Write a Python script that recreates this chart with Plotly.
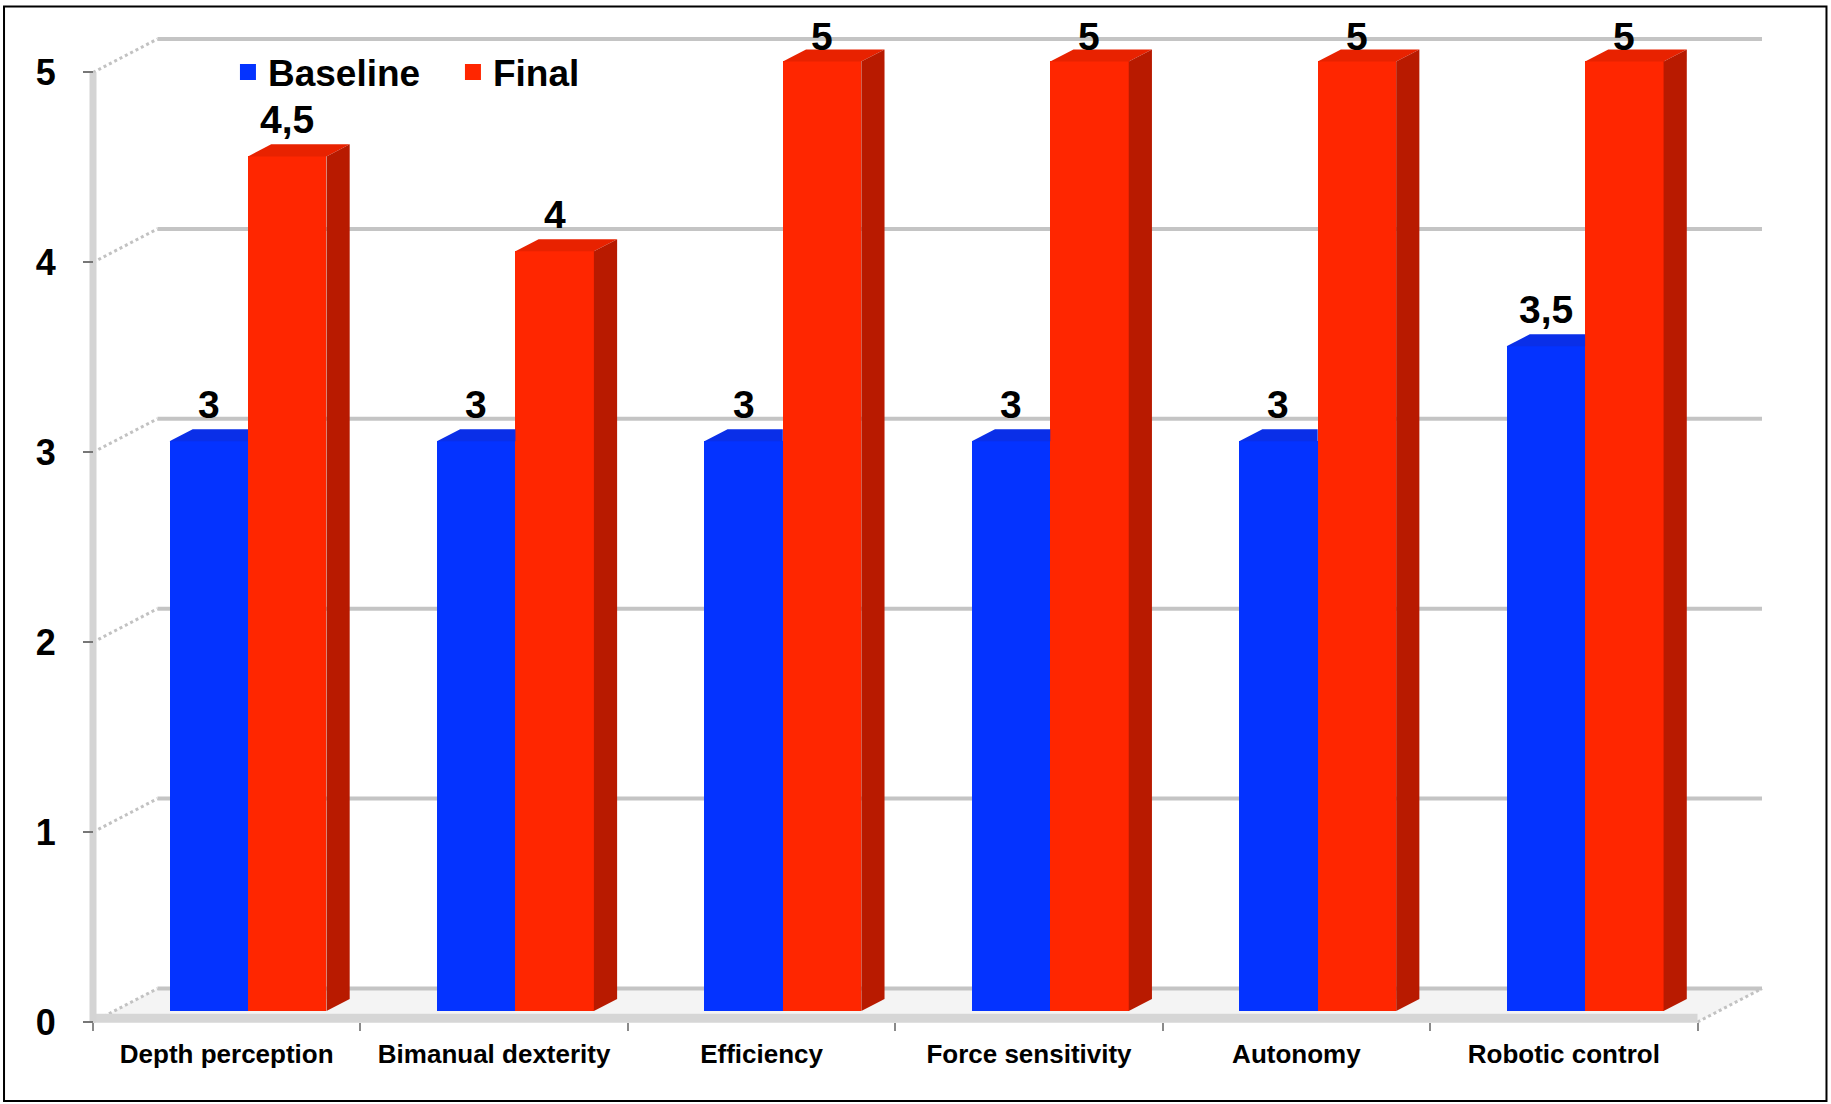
import plotly.graph_objects as go

# ---------------- data ----------------
categories = ["Depth perception", "Bimanual dexterity", "Efficiency",
              "Force sensitivity", "Autonomy", "Robotic control"]
baseline = [3, 3, 3, 3, 3, 3.5]
final = [4.5, 4, 5, 5, 5, 5]
y_ticks = [0, 1, 2, 3, 4, 5]
series_names = ["Baseline", "Final"]

# ---------------- style / geometry ----------------
W, H = 1831, 1104
FONT = "Liberation Sans"
BLUE, BLUE_TOP = "#0433ff", "#0a2fe8"
RED, RED_TOP, RED_SIDE = "#ff2600", "#e82200", "#b81a00"
GRID = "#c4c4c4"

PX_X, PX_Y = 267.5, 190.0          # pixels per data unit
X_ORIGIN_PIX, Y_ORIGIN_PIX = 93, 1022
DXU, DYU = 64.5 / PX_X, 33.5 / PX_Y  # depth vector of the 3D box (data units)
D0, DD = 0.33, 0.36                 # bar front depth and bar depth (fractions)
BAR_W = 0.2935

n = len(categories)
xmin = -0.5 - 12 / PX_X
xmax = n - 0.5 + DXU + 8 / PX_X
ymin = -14 / PX_Y
ymax = max(y_ticks) + DYU + 6 / PX_Y
ml = X_ORIGIN_PIX - 12
pw = (xmax - xmin) * PX_X
mr = W - ml - pw
mb = H - (Y_ORIGIN_PIX + 14)
ph = (ymax - ymin) * PX_Y
mt = H - mb - ph


def fmt(v):
    return str(int(v)) if float(v).is_integer() else str(v).replace(".", ",")


def px_to_paper_x(p):
    return (p - ml) / pw


def px_to_paper_y(p):
    return (H - mb - p) / ph


fig = go.Figure()
shapes = []

# floor
x_lo, x_hi = -0.5, n - 0.5
shapes.append(dict(type="path", layer="below", xref="x", yref="y",
                   path=f"M{x_lo},0 L{x_hi},0 L{x_hi + DXU},{DYU} L{x_lo + DXU},{DYU} Z",
                   fillcolor="#f4f4f4", line=dict(width=0)))
# back wall grid lines + left wall diagonals
for v in y_ticks:
    shapes.append(dict(type="line", layer="below", xref="x", yref="y",
                       x0=x_lo + DXU, x1=x_hi + DXU, y0=v + DYU, y1=v + DYU,
                       line=dict(color=GRID, width=4)))
    shapes.append(dict(type="line", layer="below", xref="x", yref="y",
                       x0=x_lo, x1=x_lo + DXU, y0=v, y1=v + DYU,
                       line=dict(color="#c2c2c2", width=3, dash="dot")))
# right floor diagonal
shapes.append(dict(type="line", layer="below", xref="x", yref="y",
                   x0=x_hi, x1=x_hi + DXU, y0=0, y1=DYU,
                   line=dict(color="#c2c2c2", width=3, dash="dot")))
# front floor slab and front y-axis wall edge
shapes.append(dict(type="line", layer="below", xref="x", yref="y",
                   x0=x_lo, x1=x_hi, y0=0.02, y1=0.02,
                   line=dict(color="#d6d6d6", width=9)))
shapes.append(dict(type="line", layer="below", xref="x", yref="y",
                   x0=x_lo, x1=x_lo, y0=0, y1=max(y_ticks),
                   line=dict(color="#d4d4d4", width=7)))
# outer frame
shapes.append(dict(type="rect", layer="above", xref="paper", yref="paper",
                   x0=px_to_paper_x(4), x1=px_to_paper_x(1827),
                   y0=px_to_paper_y(1101), y1=px_to_paper_y(6),
                   line=dict(color="#000000", width=2), fillcolor="rgba(0,0,0,0)"))

# bars (front faces)
shift = D0 * DXU
base = D0 * DYU
xb = [i - BAR_W / 2 + shift for i in range(n)]
xr = [i + BAR_W / 2 + shift for i in range(n)]
fig.add_trace(go.Bar(x=xb, y=baseline, base=base, width=BAR_W, name=series_names[0],
                     marker=dict(color=BLUE, line=dict(width=0)), showlegend=False))
fig.add_trace(go.Bar(x=xr, y=final, base=base, width=BAR_W, name=series_names[1],
                     marker=dict(color=RED, line=dict(width=0)), showlegend=False))

ddx, ddy = DD * DXU, DD * DYU
# top faces of blue bars (part not hidden by red bar)
for i in range(n):
    x0, x1 = xb[i] - BAR_W / 2, xb[i] + BAR_W / 2
    t = base + baseline[i]
    fig.add_trace(go.Scatter(x=[x0, x1, x1, x0 + ddx, x0], y=[t, t, t + ddy, t + ddy, t],
                             fill="toself", fillcolor=BLUE_TOP, mode="lines",
                             line=dict(width=0, color=BLUE_TOP), showlegend=False,
                             hoverinfo="skip"))
# top + side faces of red bars
for i in range(n):
    x0, x1 = xr[i] - BAR_W / 2, xr[i] + BAR_W / 2
    t = base + final[i]
    fig.add_trace(go.Scatter(x=[x0, x1, x1 + ddx, x0 + ddx, x0], y=[t, t, t + ddy, t + ddy, t],
                             fill="toself", fillcolor=RED_TOP, mode="lines",
                             line=dict(width=0, color=RED_TOP), showlegend=False,
                             hoverinfo="skip"))
    fig.add_trace(go.Scatter(x=[x1, x1, x1 + ddx, x1 + ddx, x1],
                             y=[base, t, t + ddy, base + ddy, base],
                             fill="toself", fillcolor=RED_SIDE, mode="lines",
                             line=dict(width=0, color=RED_SIDE), showlegend=False,
                             hoverinfo="skip"))

# legend entries
for name, col in zip(series_names, [BLUE, RED]):
    fig.add_trace(go.Scatter(x=[None], y=[None], mode="markers", name=name,
                             marker=dict(symbol="square", size=16, color=col)))

# value labels (clamped so the top row stays inside the chart, as in the original)
label_cap = base + max(y_ticks)
annotations = []
for xs, vals in [(xb, baseline), (xr, final)]:
    for x, v in zip(xs, vals):
        annotations.append(dict(x=x, y=min(base + v + ddy, label_cap), xref="x", yref="y",
                                text=fmt(v), showarrow=False, yanchor="bottom",
                                yshift=1,
                                font=dict(family=FONT, size=39, color="#000000",
                                          weight="bold")))

fig.update_layout(
    width=W, height=H, autosize=False,
    margin=dict(l=ml, r=mr, t=mt, b=mb, pad=0),
    paper_bgcolor="white", plot_bgcolor="white",
    barmode="overlay", bargap=0,
    shapes=shapes, annotations=annotations,
    showlegend=True,
    legend=dict(orientation="h", x=px_to_paper_x(228), y=px_to_paper_y(72),
                xanchor="left", yanchor="middle", bgcolor="rgba(0,0,0,0)",
                font=dict(family=FONT, size=37, color="#000000", weight="bold"),
                itemwidth=30, tracegroupgap=0, entrywidth=180),
    xaxis=dict(range=[xmin, xmax], tickmode="array", tickvals=list(range(n)),
               ticktext=categories, ticks="", showgrid=False, zeroline=False,
               showline=False, anchor="free",
               position=(0 - ymin) / (ymax - ymin),
               ticklabelstandoff=14,
               tickfont=dict(family=FONT, size=26, color="#000000", weight="bold"),
               minor=dict(tickmode="array", tickvals=[i - 0.5 for i in range(n + 1)],
                          ticks="outside", ticklen=8, tickcolor="#8a8a8a", tickwidth=1.5,
                          showgrid=False)),
    yaxis=dict(range=[ymin, ymax], tickmode="array", tickvals=y_ticks,
               ticktext=[str(v) for v in y_ticks], ticks="outside", ticklen=10,
               tickcolor="#777777", tickwidth=1.5, showgrid=False, zeroline=False,
               showline=False, anchor="free",
               position=(-0.5 - xmin) / (xmax - xmin),
               ticklabelstandoff=20,
               tickfont=dict(family=FONT, size=36, color="#000000", weight="bold")),
)

fig.write_html("out.html")
